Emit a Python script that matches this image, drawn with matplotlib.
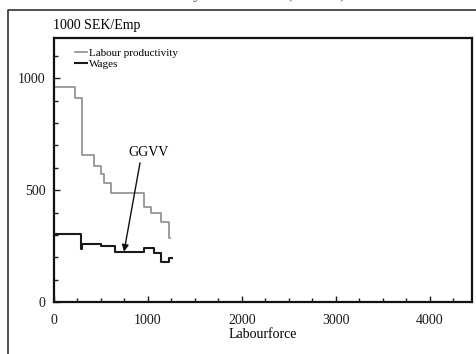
import matplotlib
matplotlib.use('Agg')
import matplotlib.pyplot as plt
from matplotlib.ticker import MultipleLocator

plt.rcParams['font.family'] = ['Liberation Serif', 'DejaVu Serif']

# step edges (labour force) and levels (1000 SEK per employee)
prod_x = [0, 220, 300, 430, 500, 535, 610, 960, 1030, 1135, 1228, 1234]
prod_y = [960, 910, 655, 608, 570, 530, 487, 425, 400, 358, 285, 285]

wage_x = [0, 292, 300, 500, 650, 960, 1065, 1135, 1224, 1260]
wage_y = [305, 237, 258, 250, 224, 240, 217, 180, 195, 195]

labels = ['Labour productivity', 'Wages']
xticks = [0, 1000, 2000, 3000, 4000]
yticks = [0, 500, 1000]

fig = plt.figure(figsize=(4.77, 3.54), dpi=100)
ax = fig.add_axes([54/477, 1-302/354, (472-54)/477, (302-38)/354])

ax.step(prod_x, prod_y, where='post', color='#8c8c8c', lw=1.2, label=labels[0])
ax.step(wage_x, wage_y, where='post', color='#1a1a1a', lw=1.5, label=labels[1])

ax.set_xlim(0, 4447)
ax.set_ylim(0, 1180)
ax.set_xticks(xticks)
ax.set_yticks(yticks)
ax.xaxis.set_minor_locator(MultipleLocator(250))
ax.yaxis.set_minor_locator(MultipleLocator(100))
ax.tick_params(which='both', direction='in', labelsize=10, colors='#1a1a1a')
ax.tick_params(which='major', length=4, width=1)
ax.tick_params(which='minor', length=3, width=1)
ax.tick_params(axis='x', pad=9)
ax.tick_params(axis='y', pad=6)
for s in ax.spines.values():
    s.set_linewidth(1.6)
    s.set_color('#111111')

ax.set_xlabel('Labourforce', fontsize=10, labelpad=0)

ax.text(1003, 670, 'GGVV', ha='center', va='center', fontsize=10)
ax.annotate('', xy=(745, 225), xytext=(915, 622),
            arrowprops=dict(arrowstyle='-|>', color='#111111', lw=1,
                            mutation_scale=10, shrinkA=0, shrinkB=0))

ax.legend(loc='upper left', bbox_to_anchor=(0.05, 0.962), frameon=False,
          fontsize=8, handlelength=1.1, handletextpad=0.2, labelspacing=0.1,
          borderpad=0, borderaxespad=0)

fig.text(53/477, 1-25/354, '1000 SEK/Emp', fontsize=10, ha='left', va='center')
# panel title, running off the top edge of the page
fig.text(232/477, 1+2/354, 'Productivity distribution (GGVV)', fontsize=12,
         ha='center', va='baseline', color='#555555')

# outer frame around the panel
fig.add_artist(plt.Line2D([8/477, 8/477, 1.0], [0, 1-10/354, 1-10/354],
                          transform=fig.transFigure, color='#333333', lw=1.2))

fig.savefig('out.png', dpi=100)
